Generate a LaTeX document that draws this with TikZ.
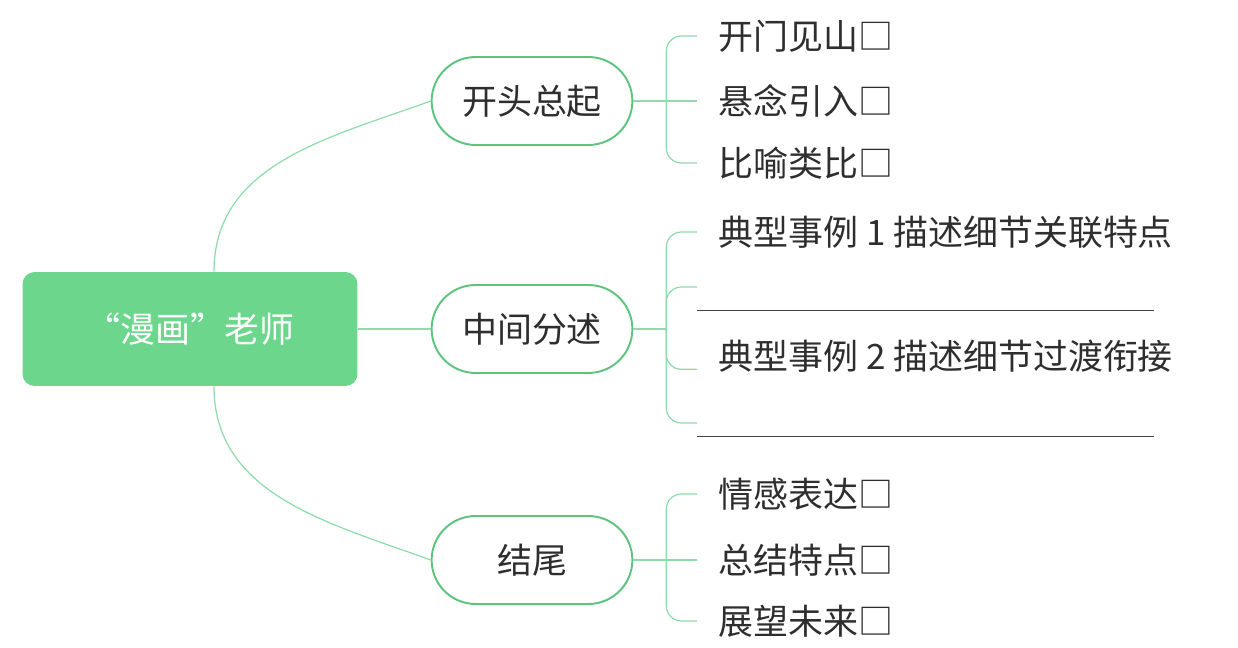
\documentclass[tikz,border=0pt]{standalone}
\usepackage{fontspec}
\setmainfont{Noto Sans CJK SC}
\usetikzlibrary{shapes.misc,positioning,calc}
\definecolor{mmFill}{HTML}{6CD68C}
\definecolor{mmEdge}{HTML}{5DC47E}
\definecolor{mmLink}{HTML}{8FDBA9}
\definecolor{mmText}{HTML}{2E2E2E}
\definecolor{mmRule}{HTML}{444444}

\begin{document}
\begin{tikzpicture}[
  x=0.02cm,y=-0.02cm,
  font=\fontsize{19.9}{23}\selectfont,text=mmText,
  hub/.style={fill=mmFill,rounded corners=0.24cm,minimum width=6.7cm,
              minimum height=2.28cm,text=white},
  topic/.style={draw=mmEdge,line width=1.1pt,rounded rectangle,fill=white,
                minimum width=4.25cm,minimum height=1.76cm},
  leaf/.style={anchor=west,inner xsep=0.42cm,inner ysep=2pt},
  blank/.style={anchor=west,inner sep=0pt,minimum width=9.12cm},
  rule/.style={draw=mmRule,line width=0.7pt},
  link/.style={draw=mmLink,line width=0.7pt},
  bracket/.style={link,rounded corners=0.3cm}
]
\useasboundingbox (0,0) rectangle (1238,648);

% centre and the three topics
\node[hub]   (root)  at (190,329) {“漫画”老师};
\node[topic] (open)  at (532,101) {开头总起};
\node[topic] (mid)   at (532,329) {中间分述};
\node[topic] (close) at (532,560) {结尾};

% leaves
\node[leaf] (o1) at (697,36)  {开门见山□};
\node[leaf] (o2) at (697,101) {悬念引入□};
\node[leaf] (o3) at (697,163) {比喻类比□};
\node[leaf] (ex1) at (697,232) {典型事例 1 描述细节关联特点};
\node[blank,minimum height=0.92cm] (bl1) at (697,287) {};
\node[leaf] (ex2) at (697,356) {典型事例 2 描述细节过渡衔接};
\node[blank,minimum height=0.52cm] (bl2) at (697,423) {};
\node[leaf] (c1) at (697,494) {情感表达□};
\node[leaf] (c2) at (697,560) {总结特点□};
\node[leaf] (c3) at (697,621) {展望未来□};

\draw[rule] (bl1.south west) -- (bl1.south east);
\draw[rule] (bl2.south west) -- (bl2.south east);

% branches from the centre
\draw[link] (root.east) -- (mid.west);
\draw[link] ([xshift=0.48cm]root.north) to[out=90,in=200] (open.west);
\draw[link] ([xshift=0.48cm]root.south) to[out=270,in=160] (close.west);

% brackets
\coordinate (openstem)  at ($(open.east)+(33,0)$);
\coordinate (midstem)   at ($(mid.east)+(33,0)$);
\coordinate (closestem) at ($(close.east)+(33,0)$);
\draw[link] (open.east) -- (o2.west);
\draw[link] (mid.east) -- (midstem);
\draw[link] (close.east) -- (c2.west);
\foreach \t in {o1,o3} \draw[bracket] (openstem) |- (\t.west);
\foreach \t in {ex1.west,bl1.west,ex2.base west,bl2.west} \draw[bracket] (midstem) |- (\t);
\foreach \t in {c1,c3} \draw[bracket] (closestem) |- (\t.west);
\end{tikzpicture}
\end{document}
